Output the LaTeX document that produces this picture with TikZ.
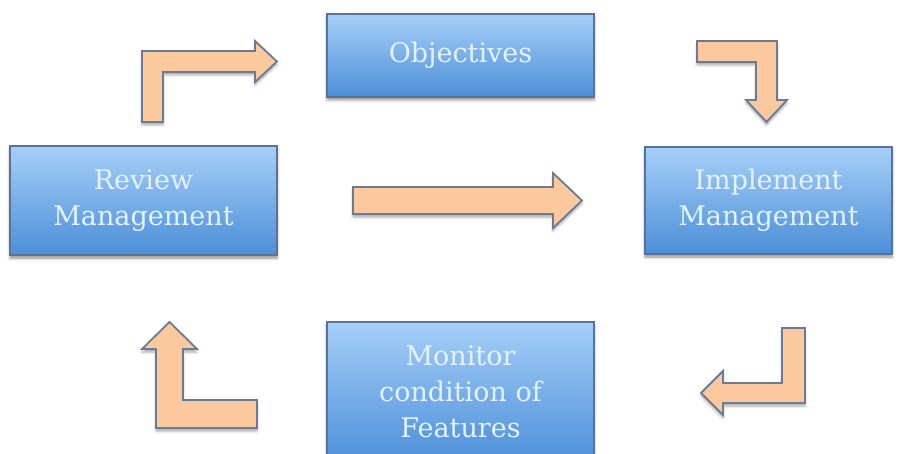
\documentclass[tikz,border=0pt]{standalone}
\usepackage{fontspec}
\setmainfont{DejaVu Serif}
\usetikzlibrary{shadows.blur}
\definecolor{boxtop}{HTML}{A6CFF8}
\definecolor{boxbot}{HTML}{4C8FD8}
\definecolor{boxedge}{HTML}{5A7294}
\definecolor{txt}{HTML}{E4F2FF}
\definecolor{arrfill}{HTML}{FCC89E}
\definecolor{arredge}{HTML}{6A7B95}
\tikzset{
  box/.style={draw=boxedge, line width=1.2pt, top color=boxtop, bottom color=boxbot,
    text=txt, font=\fontsize{27}{36}\selectfont, align=center, inner sep=0pt,
    blur shadow={shadow xshift=0pt, shadow yshift=-3pt, shadow blur radius=3pt, shadow opacity=45}},
  blockarrow/.style={draw=arredge, line width=1.8pt, fill=arrfill, line join=miter,
    blur shadow={shadow xshift=0pt, shadow yshift=-3pt, shadow blur radius=2.5pt, shadow opacity=35}}
}
\begin{document}
\begin{tikzpicture}[x=1pt,y=-1pt]
\useasboundingbox (0,0) rectangle (903,454);
\clip (0,0) rectangle (903,454);
\node[box, minimum width=267pt, minimum height=83pt] (obj) at (460.5,55.5) {Objectives};
\node[box, minimum width=267pt, minimum height=109pt] (rev) at (143.5,200.5) {Review\\Management};
\node[box, minimum width=247pt, minimum height=107pt] (imp) at (768.5,200.5) {Implement\\Management};
\node[box, minimum width=267pt, minimum height=140pt] (mon) at (460.5,392) {Monitor\\condition of\\Features};
% block arrows
\draw[blockarrow] (142,122) -- (142,51) -- (255,51) -- (255,41) -- (277,61.5) -- (255,82) -- (255,72) -- (163,72) -- (163,122) -- cycle;
\draw[blockarrow] (697,41) -- (777,41) -- (777,100) -- (787,100) -- (766.5,122) -- (746,100) -- (756,100) -- (756,62) -- (697,62) -- cycle;
\draw[blockarrow] (353,187) -- (553,187) -- (553,173) -- (582,200.5) -- (553,228) -- (553,214) -- (353,214) -- cycle;
\draw[blockarrow] (782,328) -- (805,328) -- (805,403) -- (723,403) -- (723,415) -- (701,393) -- (723,371) -- (723,383) -- (782,383) -- cycle;
\draw[blockarrow] (257,400) -- (257,428) -- (156,428) -- (156,349) -- (142,349) -- (169.5,322) -- (197,349) -- (183,349) -- (183,400) -- cycle;
\end{tikzpicture}
\end{document}
